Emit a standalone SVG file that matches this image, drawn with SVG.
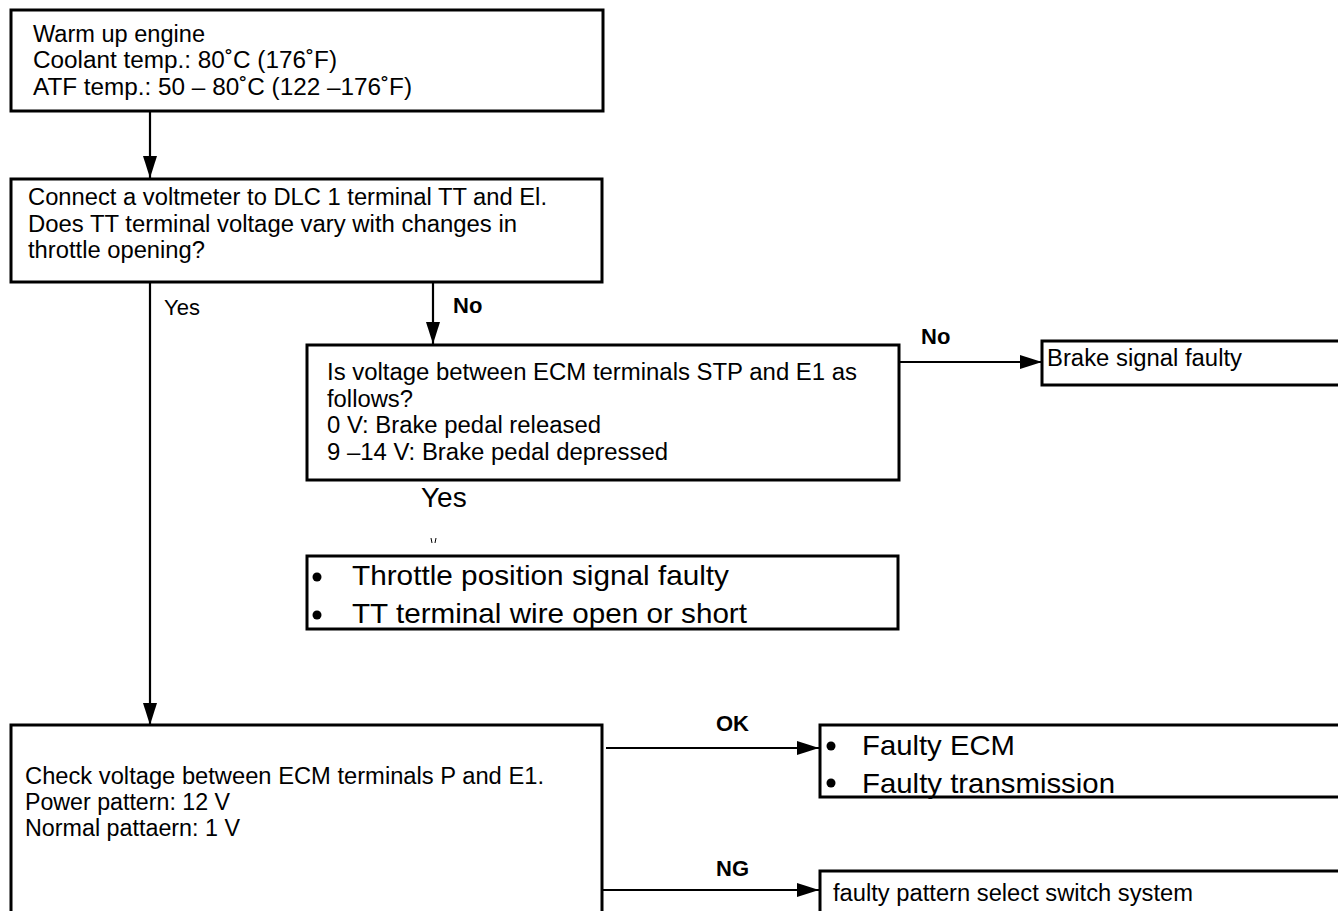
<svg xmlns="http://www.w3.org/2000/svg" width="1338" height="911" viewBox="0 0 1338 911">
<defs>
<style>
.box{fill:#fff;stroke:#000;stroke-width:3}
.t{font-family:"Liberation Sans",Arial,sans-serif;font-size:23px;fill:#000}
.big{font-family:"Liberation Sans",Arial,sans-serif;font-size:28px;fill:#000}
.lab{font-family:"Liberation Sans",Arial,sans-serif;font-size:22px;font-weight:bold;fill:#000}
.conn{stroke:#000;stroke-width:2.2;fill:none}
</style>
<marker id="ah" markerWidth="22" markerHeight="14" refX="22" refY="7" orient="auto" markerUnits="userSpaceOnUse">
<path d="M0,0 L22,7 L0,14 Z" fill="#000"/>
</marker>
</defs>
<rect width="1338" height="911" fill="#fff"/>
<g id="connectors">
<line class="conn" x1="150" y1="111" x2="150" y2="178" marker-end="url(#ah)"/>
<line class="conn" x1="150" y1="282" x2="150" y2="725" marker-end="url(#ah)"/>
<line class="conn" x1="433" y1="282" x2="433" y2="344" marker-end="url(#ah)"/>
<line class="conn" x1="899" y1="362" x2="1042" y2="362" marker-end="url(#ah)"/>
<line class="conn" x1="606" y1="748" x2="819" y2="748" marker-end="url(#ah)"/>
<line class="conn" x1="602" y1="890" x2="819" y2="890" marker-end="url(#ah)"/>
<text class="t" x="164" y="315" style="font-size:22px">Yes</text>
<text class="lab" x="453" y="313">No</text>
<text class="lab" x="921" y="344">No</text>
<text class="big" x="421" y="507">Yes</text>
<text class="lab" x="716" y="731">OK</text>
<text class="lab" x="716" y="876">NG</text>
<path d="M431,538 l1,5 M436,538 l-1,5" stroke="#000" stroke-width="1"/>
</g>
<g id="n1">
<rect class="box" x="11" y="10" width="592" height="101"/>
<text class="t" x="33" y="42" textLength="172" lengthAdjust="spacingAndGlyphs">Warm up engine</text>
<text class="t" x="33" y="68" textLength="304" lengthAdjust="spacingAndGlyphs">Coolant temp.: 80˚C (176˚F)</text>
<text class="t" x="33" y="95" textLength="379" lengthAdjust="spacingAndGlyphs">ATF temp.: 50 – 80˚C (122 –176˚F)</text>
</g>
<g id="n2">
<rect class="box" x="11" y="179" width="591" height="103"/>
<text class="t" x="28" y="205" textLength="519" lengthAdjust="spacingAndGlyphs">Connect a voltmeter to DLC 1 terminal TT and El.</text>
<text class="t" x="28" y="232" textLength="489" lengthAdjust="spacingAndGlyphs">Does TT terminal voltage vary with changes in</text>
<text class="t" x="28" y="258" textLength="177" lengthAdjust="spacingAndGlyphs">throttle opening?</text>
</g>
<g id="n3">
<rect class="box" x="307" y="345" width="592" height="135"/>
<text class="t" x="327" y="380" textLength="530" lengthAdjust="spacingAndGlyphs">Is voltage between ECM terminals STP and E1 as</text>
<text class="t" x="327" y="407" textLength="86" lengthAdjust="spacingAndGlyphs">follows?</text>
<text class="t" x="327" y="433" textLength="274" lengthAdjust="spacingAndGlyphs">0 V: Brake pedal released</text>
<text class="t" x="327" y="460" textLength="341" lengthAdjust="spacingAndGlyphs">9 –14 V: Brake pedal depressed</text>
</g>
<g id="n4">
<rect class="box" x="1042" y="341" width="310" height="44"/>
<text class="t" x="1047" y="366" textLength="195" lengthAdjust="spacingAndGlyphs">Brake signal faulty</text>
</g>
<g id="n5">
<rect class="box" x="307" y="556" width="591" height="73"/>
<circle cx="317" cy="577" r="4.5"/>
<circle cx="317" cy="615" r="4.5"/>
<text class="big" x="352" y="585" textLength="377" lengthAdjust="spacingAndGlyphs">Throttle position signal faulty</text>
<text class="big" x="352" y="623" textLength="395" lengthAdjust="spacingAndGlyphs">TT terminal wire open or short</text>
</g>
<g id="n6">
<rect class="box" x="11" y="725" width="591" height="200"/>
<text class="t" x="25" y="784" textLength="519" lengthAdjust="spacingAndGlyphs">Check voltage between ECM terminals P and E1.</text>
<text class="t" x="25" y="810" textLength="205" lengthAdjust="spacingAndGlyphs">Power pattern: 12 V</text>
<text class="t" x="25" y="836" textLength="215" lengthAdjust="spacingAndGlyphs">Normal pattaern: 1 V</text>
</g>
<g id="n7">
<rect class="box" x="820" y="725" width="530" height="72"/>
<circle cx="831" cy="746" r="4.5"/>
<circle cx="831" cy="783" r="4.5"/>
<text class="big" x="862" y="755" textLength="153" lengthAdjust="spacingAndGlyphs">Faulty ECM</text>
<text class="big" x="862" y="793" textLength="253" lengthAdjust="spacingAndGlyphs">Faulty transmission</text>
</g>
<g id="n8">
<rect class="box" x="820" y="871" width="530" height="60"/>
<text class="t" x="833" y="901" textLength="360" lengthAdjust="spacingAndGlyphs">faulty pattern select switch system</text>
</g>
</svg>
